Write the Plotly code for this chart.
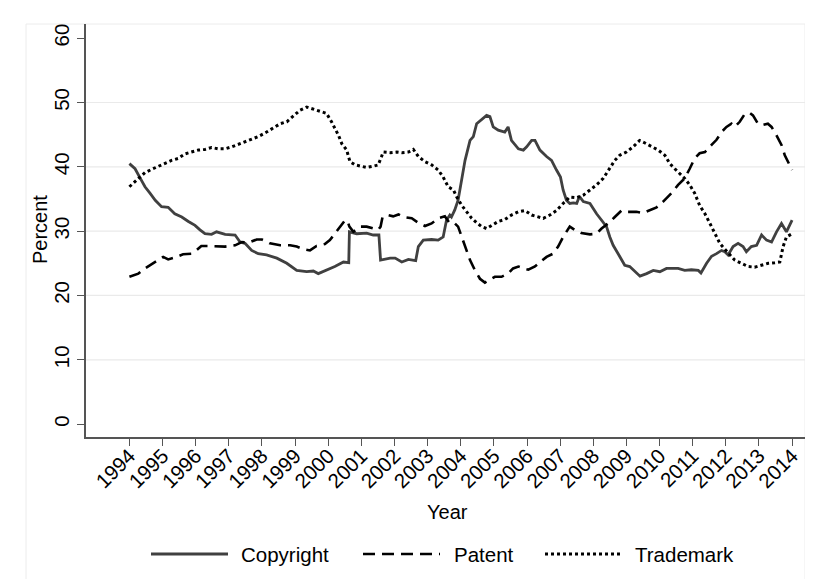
import plotly.graph_objects as go

# Copyright share (solid line)
copyright_year = [
    1994.0, 1994.17, 1994.33, 1994.47, 1994.62, 1994.78, 1994.97, 1995.17, 1995.37,
    1995.58, 1995.78, 1995.98, 1996.13, 1996.28, 1996.48, 1996.63, 1996.89, 1997.19,
    1997.34, 1997.49, 1997.69, 1997.89, 1998.14, 1998.45, 1998.75, 1999.05, 1999.35,
    1999.55, 1999.70, 1999.95, 2000.2, 2000.46, 2000.62, 2000.64, 2000.86, 2001.16,
    2001.36, 2001.53, 2001.58, 2001.87, 2002.02, 2002.22, 2002.42, 2002.64, 2002.72,
    2002.87, 2003.12, 2003.32, 2003.47, 2003.57, 2003.67, 2003.72, 2003.82, 2003.92,
    2004.03, 2004.13, 2004.28, 2004.38, 2004.48, 2004.63, 2004.78, 2004.88, 2004.98,
    2005.13, 2005.33, 2005.43, 2005.53, 2005.74, 2005.89, 2005.99, 2006.14, 2006.24,
    2006.39, 2006.59, 2006.74, 2006.89, 2007.01, 2007.09, 2007.19, 2007.29, 2007.4,
    2007.5, 2007.58, 2007.7, 2007.9, 2008.1, 2008.25, 2008.4, 2008.5, 2008.6, 2008.75,
    2008.95, 2009.1, 2009.26, 2009.41, 2009.61, 2009.81, 2010.01, 2010.21, 2010.36,
    2010.56, 2010.76, 2010.96, 2011.17, 2011.25, 2011.42, 2011.57, 2011.72, 2011.87,
    2011.97, 2012.07, 2012.22, 2012.37, 2012.52, 2012.62, 2012.77, 2012.93, 2013.08,
    2013.23, 2013.38, 2013.53, 2013.68, 2013.83, 2014.0,
]
copyright_pct = [
    40.5, 39.7, 38.2, 36.9, 35.9, 34.8, 33.8, 33.7, 32.7,
    32.2, 31.5, 30.9, 30.2, 29.6, 29.5, 29.9, 29.5, 29.4,
    28.3, 28.1, 27.0, 26.5, 26.3, 25.8, 25.0, 23.9, 23.7,
    23.8, 23.4, 23.9, 24.5, 25.2, 25.1, 29.9, 29.6, 29.7,
    29.4, 29.4, 25.5, 25.8, 25.8, 25.2, 25.6, 25.4, 27.6,
    28.6, 28.7, 28.6, 29.1, 31.7, 32.5, 32.2, 33.3, 34.8,
    37.9, 41.0, 44.1, 44.7, 46.7, 47.3, 48.0, 47.8, 46.2,
    45.7, 45.4, 46.2, 44.1, 42.8, 42.6, 43.1, 44.1, 44.1,
    42.6, 41.6, 41.0, 39.5, 38.4, 36.4, 34.8, 34.3, 34.4,
    34.3, 35.4, 34.6, 34.3, 32.7, 31.7, 30.7, 29.1, 27.8, 26.5,
    24.7, 24.5, 23.7, 23.0, 23.4, 23.9, 23.7, 24.2, 24.2,
    24.2, 23.9, 24.0, 23.9, 23.5, 25.0, 26.1, 26.5, 27.0,
    26.8, 26.3, 27.6, 28.1, 27.6, 26.8, 27.6, 27.8, 29.4,
    28.6, 28.3, 29.9, 31.2, 29.9, 31.7,
]

# Patent share (dashed line)
patent_year = [
    1994.0, 1994.27, 1994.47, 1994.67, 1994.87, 1995.02, 1995.17, 1995.37, 1995.62,
    1995.87, 1996.02, 1996.17, 1996.37, 1996.63, 1996.89, 1997.19, 1997.39, 1997.59,
    1997.84, 1998.0, 1998.24, 1998.55, 1998.85, 1999.05, 1999.25, 1999.45, 1999.65,
    1999.9, 2000.05, 2000.2, 2000.36, 2000.51, 2000.58, 2000.64, 2000.76, 2000.96,
    2001.16, 2001.36, 2001.51, 2001.58, 2001.64, 2001.81, 2001.96, 2002.12, 2002.27,
    2002.52, 2002.72, 2002.92, 2003.12, 2003.32, 2003.52, 2003.67, 2003.82, 2003.92,
    2004.03, 2004.13, 2004.28, 2004.43, 2004.58, 2004.73, 2004.88, 2005.03, 2005.23,
    2005.43, 2005.58, 2005.74, 2005.89, 2006.04, 2006.24, 2006.39, 2006.59, 2006.79,
    2006.94, 2007.09, 2007.29, 2007.44, 2007.64, 2007.9, 2008.1, 2008.25, 2008.45,
    2008.65, 2008.85, 2009.05, 2009.3, 2009.5, 2009.7, 2009.91, 2010.11, 2010.26,
    2010.36, 2010.56, 2010.76, 2010.91, 2011.06, 2011.21, 2011.37, 2011.57, 2011.72,
    2011.87, 2012.02, 2012.17, 2012.27, 2012.42, 2012.57, 2012.72, 2012.82, 2012.97,
    2013.12, 2013.27, 2013.38, 2013.53, 2013.68, 2013.78, 2013.88, 2014.0,
]
patent_pct = [
    22.9, 23.4, 24.2, 24.9, 25.6, 26.0, 25.6, 25.9, 26.4,
    26.5, 27.0, 27.7, 27.7, 27.6, 27.6, 27.8, 28.3, 28.2,
    28.7, 28.7, 28.1, 27.8, 27.8, 27.6, 27.2, 27.0, 27.7,
    28.0, 28.6, 29.6, 30.7, 31.7, 31.6, 30.7, 29.9, 30.7,
    30.7, 30.4, 30.2, 30.7, 32.2, 32.5, 32.3, 32.6, 32.2,
    32.0, 31.3, 30.8, 31.2, 32.0, 32.3, 31.2, 31.2, 30.7,
    29.1, 27.6, 25.5, 23.9, 22.6, 22.0, 22.4, 22.9, 22.9,
    23.4, 24.2, 24.5, 24.2, 24.0, 24.5, 25.2, 26.0, 26.5,
    27.6, 29.1, 30.7, 30.2, 29.7, 29.5, 29.6, 30.4, 31.2,
    32.2, 33.2, 33.0, 33.0, 32.8, 33.2, 33.7, 34.6, 35.3,
    35.9, 37.2, 38.2, 39.7, 41.3, 42.1, 42.3, 43.4, 44.2,
    45.4, 46.2, 46.7, 46.2, 47.0, 48.2, 48.4, 48.0, 46.7,
    46.5, 46.7, 46.2, 44.9, 43.4, 41.8, 40.8, 39.5,
]

# Trademark share (dotted line)
trademark_year = [
    1994.0, 1994.17, 1994.33, 1994.47, 1994.67, 1994.87, 1995.07, 1995.27, 1995.47,
    1995.67, 1995.87, 1996.08, 1996.28, 1996.48, 1996.68, 1996.89, 1997.09, 1997.29,
    1997.49, 1997.69, 1997.89, 1998.14, 1998.35, 1998.55, 1998.75, 1998.95, 1999.15,
    1999.35, 1999.55, 1999.75, 1999.95, 2000.1, 2000.2, 2000.31, 2000.41, 2000.56,
    2000.61, 2000.66, 2000.81, 2000.96, 2001.16, 2001.36, 2001.51, 2001.61, 2001.66,
    2001.87, 2002.07, 2002.22, 2002.42, 2002.57, 2002.72, 2002.92, 2003.12, 2003.32,
    2003.47, 2003.62, 2003.78, 2003.88, 2004.03, 2004.18, 2004.33, 2004.48, 2004.63,
    2004.78, 2004.93, 2005.13, 2005.33, 2005.53, 2005.74, 2005.94, 2006.14, 2006.29,
    2006.49, 2006.69, 2006.89, 2007.09, 2007.29, 2007.5, 2007.7, 2007.9, 2008.1,
    2008.3, 2008.5, 2008.65, 2008.8, 2009.0, 2009.2, 2009.4, 2009.56, 2009.76,
    2009.96, 2010.16, 2010.31, 2010.46, 2010.61, 2010.76, 2010.91, 2011.06, 2011.21,
    2011.37, 2011.52, 2011.67, 2011.82, 2011.97, 2012.12, 2012.27, 2012.47, 2012.67,
    2012.87, 2013.08, 2013.28, 2013.48, 2013.63, 2013.73, 2013.83, 2014.0,
]
trademark_pct = [
    36.9, 37.7, 38.4, 39.1, 39.6, 40.1, 40.5, 41.0, 41.3,
    42.0, 42.3, 42.6, 42.7, 43.0, 42.8, 42.8, 43.1, 43.5,
    43.9, 44.2, 44.7, 45.4, 46.0, 46.7, 47.0, 47.9, 48.8,
    49.3, 49.0, 48.7, 48.3, 47.0, 46.0, 44.9, 43.6, 42.6,
    41.6, 40.8, 40.3, 40.1, 39.9, 40.1, 40.3, 41.6, 42.3,
    42.2, 42.3, 42.2, 42.3, 42.7, 41.6, 40.8, 40.3, 39.5,
    38.4, 36.9, 36.4, 35.3, 34.0, 33.0, 32.0, 31.3, 30.7,
    30.4, 30.9, 31.5, 31.8, 32.5, 33.0, 33.2, 32.5, 32.3,
    32.0, 32.5, 33.2, 34.3, 35.3, 35.2, 35.6, 36.4, 37.2,
    38.2, 39.7, 41.0, 41.8, 42.3, 43.1, 44.1, 43.7, 43.1,
    42.6, 41.8, 40.5, 39.7, 39.0, 38.2, 37.2, 35.9, 34.0,
    32.7, 31.2, 29.6, 28.1, 27.2, 26.3, 25.5, 25.0, 24.5,
    24.4, 24.7, 25.0, 25.1, 25.2, 27.6, 29.1, 29.6,
]

year_ticks = list(range(1994, 2015))
pct_ticks = [0, 10, 20, 30, 40, 50, 60]
grid_pct = [10, 20, 30, 40, 50]

FONT = "Liberation Sans, Arial, Helvetica, sans-serif"
OFF = 8  # the page body margin puts the figure 8px in from the window corner
W, H = 813 - OFF, 579 - OFF
# plot area in window pixels: x 86..805, y 24..437
ML, MR, MT, MB = 86 - OFF, W - (805 - OFF), 24 - OFF, H - (437 - OFF)
PW, PH = W - ML - MR, H - MT - MB


def px_x(px):
    """window pixel x -> paper coordinate"""
    return (px - OFF - ML) / PW


def px_y(py):
    """window pixel y -> paper coordinate"""
    return (H - MB - (py - OFF)) / PH


series = [
    ("Copyright", copyright_year, copyright_pct, dict(color="#404040", width=2.8, dash="solid")),
    ("Patent", patent_year, patent_pct, dict(color="black", width=2.6, dash="12px,7px")),
    ("Trademark", trademark_year, trademark_pct, dict(color="black", width=3, dash="dot")),
]

fig = go.Figure()
for name, xs, ys, line in series:
    fig.add_trace(go.Scatter(x=xs, y=ys, mode="lines", name=name, line=line, showlegend=False))

shapes = []
# faint graph-region border
shapes.append(dict(type="rect", xref="paper", yref="paper", x0=px_x(26), x1=px_x(805),
                   y0=px_y(600), y1=px_y(24), line=dict(color="#ececec", width=1), layer="below"))
for g in grid_pct:
    shapes.append(dict(type="line", xref="paper", yref="y", x0=0, x1=1, y0=g, y1=g,
                       line=dict(color="#eaeaea", width=1.2), layer="below"))

# legend drawn by hand so the line samples are long, as in the original
legend_y = px_y(554)
legend_items = [
    ("Copyright", 151, 228, 239, series[0][3]),
    ("Patent", 363, 440, 452, series[1][3]),
    ("Trademark", 545, 620, 633, series[2][3]),
]
annotations = []
for label, x0, x1, tx, line in legend_items:
    shapes.append(dict(type="line", xref="paper", yref="paper", x0=px_x(x0), x1=px_x(x1),
                       y0=legend_y, y1=legend_y, line=line))
    annotations.append(dict(text=label, xref="paper", yref="paper", x=px_x(tx), y=legend_y,
                            xanchor="left", yanchor="middle", showarrow=False,
                            font=dict(size=20.5, color="black", family=FONT)))

annotations.append(dict(text="Year", xref="paper", yref="paper", x=px_x(447), y=px_y(512),
                        xanchor="center", yanchor="middle", showarrow=False,
                        font=dict(size=20, color="black", family=FONT)))
annotations.append(dict(text="Percent", xref="paper", yref="paper", x=px_x(40), y=px_y(230),
                        xanchor="center", yanchor="middle", showarrow=False, textangle=-90,
                        font=dict(size=20, color="black", family=FONT)))

fig.update_layout(
    width=W,
    height=H,
    margin=dict(l=ML, r=MR, t=MT, b=MB, autoexpand=False),
    paper_bgcolor="white",
    plot_bgcolor="white",
    font=dict(family=FONT, size=20, color="black"),
    shapes=shapes,
    annotations=annotations,
    showlegend=False,
)
axis_style = dict(
    ticks="outside",
    ticklen=7,
    tickwidth=1.3,
    tickcolor="#555555",
    showline=True,
    linecolor="#555555",
    linewidth=1.5,
    showgrid=False,
    zeroline=False,
    automargin=False,
    tickfont=dict(size=20.5, color="black", family=FONT),
)
fig.update_xaxes(
    range=[1992.69, 2014.39],
    tickvals=year_ticks,
    ticktext=[str(y) for y in year_ticks],
    tickangle=-45,
    ticklabelstandoff=-10,
    **axis_style,
)
fig.update_yaxes(
    range=[-2.0, 62.2],
    tickvals=pct_ticks,
    tickangle=-90,
    **axis_style,
)

fig.write_html("out.html")
